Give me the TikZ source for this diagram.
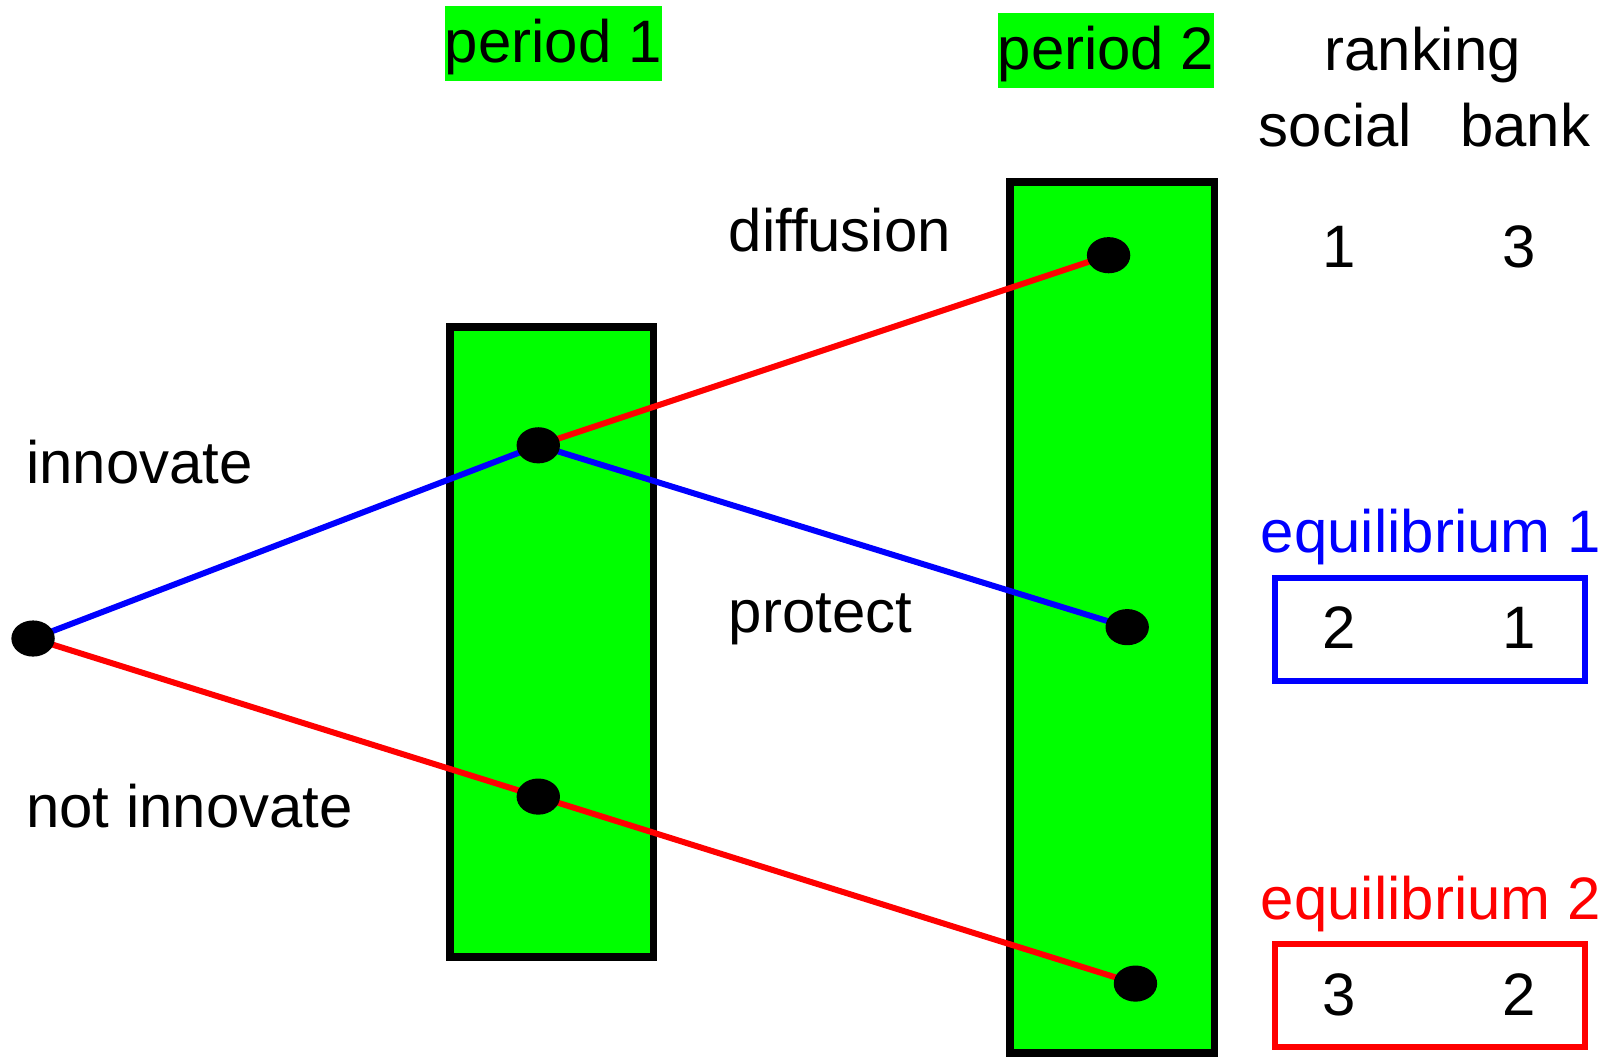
\documentclass[tikz,border=0pt]{standalone}
\usepackage{fontspec}
\setmainfont{Liberation Sans}
\usetikzlibrary{shapes.geometric}
\pgfdeclarelayer{back}
\pgfdeclarelayer{mid}
\pgfsetlayers{back,mid,main}
\definecolor{stagegreen}{RGB}{0,255,0}
\definecolor{pblue}{RGB}{0,0,255}
\definecolor{pred}{RGB}{255,0,0}
\begin{document}
\begin{tikzpicture}[x=0.5pt,y=-0.5pt,
  txt/.style={font=\fontsize{29}{35}\selectfont, inner sep=0pt},
  periodbox/.style={txt, fill=stagegreen, minimum width=104pt, minimum height=36pt,
    text height=26pt, text depth=8pt},
  stage/.style={draw=black, line width=3.8pt, fill=stagegreen, inner sep=0pt},
  dot/.style={ellipse, fill=black, inner sep=0pt, minimum width=21pt, minimum height=17.5pt},
  branch/.style={line width=2.9pt},
  eqbox/.style={draw, line width=2.9pt, inner sep=0pt, minimum width=150pt, minimum height=50pt}]
\useasboundingbox (0,0) rectangle (1568,1025);

% period headers
\node[periodbox] (p1) at (535.5,42) {period 1};
\node[periodbox] (p2) at (1070.5,49) {period 2};

% ranking header
\node[txt, anchor=base] (rank) at (1377,68) {ranking};
\node[txt, anchor=base west] (soc) at (1218,142) {social};
\node[txt, anchor=base west] (bnk) at (1413,142) {bank};

% action labels
\node[txt, anchor=base west] (diff) at (705,243) {diffusion};
\node[txt, anchor=base west] (prot) at (705,612) {protect};
\node[txt, anchor=base west] (inn) at (25,468) {innovate};
\node[txt, anchor=base west] (ninn) at (25,801) {not innovate};

% ranking of the diffusion outcome
\node[txt, anchor=base] (d1s) at (1296,259) {1};
\node[txt, anchor=base] (d1b) at (1470,259) {3};

% equilibrium 1
\node[txt, anchor=base west, text=pblue] (eq1) at (1220,535) {equilibrium 1};
\node[eqbox, draw=pblue] (eq1box) at (1384.5,609.5) {};
\node[txt, anchor=base] (e1s) at (1296,628) {2};
\node[txt, anchor=base] (e1b) at (1470,628) {1};

% equilibrium 2
\node[txt, anchor=base west, text=pred] (eq2) at (1220,890) {equilibrium 2};
\node[eqbox, draw=pred] (eq2box) at (1384.5,963.5) {};
\node[txt, anchor=base] (e2s) at (1296,983) {3};
\node[txt, anchor=base] (e2b) at (1470,983) {2};

% decision nodes
\node[dot] (r)  at (32,618) {};
\node[dot] (n1) at (521,431) {};
\node[dot] (n2) at (521,771) {};
\node[dot] (t1) at (1073,247) {};
\node[dot] (t2) at (1091,607) {};
\node[dot] (t3) at (1099,952) {};

% period columns
\begin{pgfonlayer}{back}
  \node[stage, minimum width=98.5pt, minimum height=305pt] (s1) at (534,621.5) {};
  \node[stage, minimum width=99pt, minimum height=421.5pt] (s2) at (1076.5,597.5) {};
\end{pgfonlayer}

% branches
\begin{pgfonlayer}{mid}
  \draw[branch, pblue] (r.center) -- (n1.center);
  \draw[branch, pblue] (n1.center) -- (t2.center);
  \draw[branch, pred] (n1.center) -- (t1.center);
  \draw[branch, pred] (r.center) -- (n2.center);
  \draw[branch, pred] (n2.center) -- (t3.center);
\end{pgfonlayer}
\end{tikzpicture}
\end{document}
